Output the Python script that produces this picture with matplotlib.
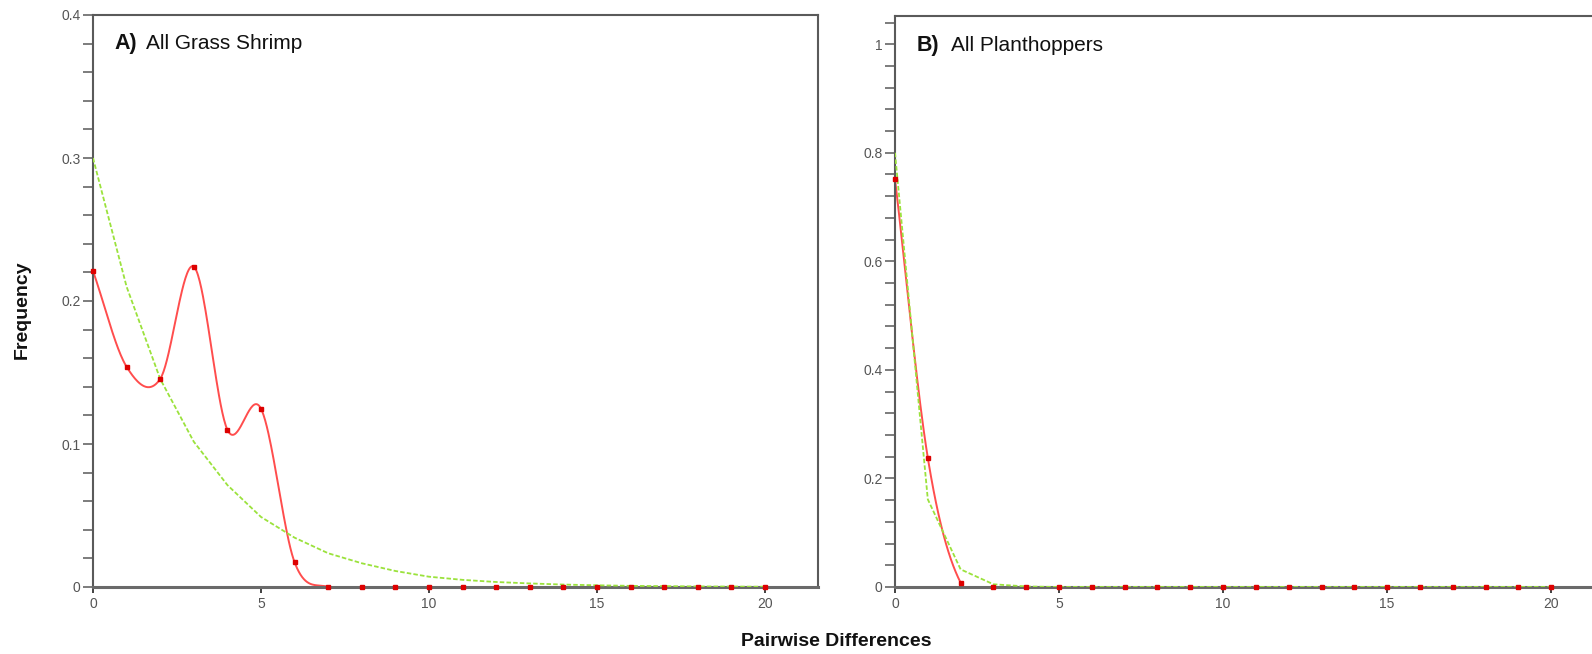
import numpy as np
import matplotlib
matplotlib.use("Agg")
import matplotlib.pyplot as plt

plt.rcParams['font.family'] = ['Liberation Sans', 'DejaVu Sans']

# ---- data ----
diffs = list(range(0, 21))

shrimp_obs = [0.221, 0.154, 0.1455, 0.224, 0.110, 0.1247, 0.0173, 0.0, 0.0, 0.0,
              0.0, 0.0, 0.0, 0.0, 0.0, 0.0, 0.0, 0.0, 0.0, 0.0, 0.0]
shrimp_exp = [0.300, 0.210, 0.1455, 0.1016, 0.0713, 0.049, 0.0345, 0.0236, 0.0166, 0.0112,
              0.0072, 0.0050, 0.0035, 0.0025, 0.0017, 0.0012, 0.0008, 0.0006, 0.0004, 0.0003, 0.0002]

plant_obs = [0.752, 0.238, 0.008, 0.0, 0.0, 0.0, 0.0, 0.0, 0.0, 0.0,
             0.0, 0.0, 0.0, 0.0, 0.0, 0.0, 0.0, 0.0, 0.0, 0.0, 0.0]
plant_exp = [0.800, 0.1615, 0.0325, 0.005, 0.001, 0.0, 0.0, 0.0, 0.0, 0.0,
             0.0, 0.0, 0.0, 0.0, 0.0, 0.0, 0.0, 0.0, 0.0, 0.0, 0.0]

panel_letters = ["A)", "B)"]
panel_titles = ["All Grass Shrimp", "All Planthoppers"]
xticks = [0, 5, 10, 15, 20]
yticks_a = [0, 0.1, 0.2, 0.3, 0.4]
yticklabels_a = ["0", "0.1", "0.2", "0.3", "0.4"]
yticks_b = [0, 0.2, 0.4, 0.6, 0.8, 1.0]
yticklabels_b = ["0", "0.2", "0.4", "0.6", "0.8", "1"]


def smooth_curve(x, y, n=40):
    """Catmull-Rom (cubic Hermite) smoothing through the points."""
    x = np.asarray(x, float)
    y = np.asarray(y, float)
    m = len(x)
    tang = np.zeros(m)
    tang[0] = (y[1] - y[0]) / (x[1] - x[0])
    tang[-1] = (y[-1] - y[-2]) / (x[-1] - x[-2])
    for i in range(1, m - 1):
        tang[i] = (y[i + 1] - y[i - 1]) / (x[i + 1] - x[i - 1])
    xs, ys = [], []
    for i in range(m - 1):
        h = x[i + 1] - x[i]
        t = np.linspace(0, 1, n, endpoint=(i == m - 2))
        h00 = 2 * t ** 3 - 3 * t ** 2 + 1
        h10 = t ** 3 - 2 * t ** 2 + t
        h01 = -2 * t ** 3 + 3 * t ** 2
        h11 = t ** 3 - t ** 2
        xs.append(x[i] + t * h)
        ys.append(h00 * y[i] + h10 * h * tang[i] + h01 * y[i + 1] + h11 * h * tang[i + 1])
    return np.concatenate(xs), np.concatenate(ys)


W, H = 1592, 654
fig = plt.figure(figsize=(W / 100, H / 100), dpi=100)

axA = fig.add_axes([93 / W, (H - 587) / H, 725 / W, 572 / H])
axB = fig.add_axes([895 / W, (H - 587) / H, 708 / W, 571 / H])

red_line = '#ff4d4d'
red_mark = '#dd0000'
green = '#9be23c'
spine_col = '#5a5a5a'
lab_col = '#555555'

panels = [
    (axA, shrimp_obs, shrimp_exp, 0.4, yticks_a, yticklabels_a, 0.02),
    (axB, plant_obs, plant_exp, 1.052, yticks_b, yticklabels_b, 0.04),
]

for k, (ax, obs, exp, ymax, yt, ytl, minor) in enumerate(panels):
    sx, sy = smooth_curve(diffs, obs)
    ax.plot(sx, sy, color=red_line, lw=1.4, zorder=2)
    ax.plot(diffs, exp, color=green, lw=1.3, dashes=(2.5, 1.2), zorder=4.5)
    ax.plot(diffs, obs, linestyle='none', marker='s', markersize=3.0,
            color=red_mark, clip_on=False, zorder=5)
    ax.set_xlim(0, 21.58)
    ax.set_ylim(0, ymax)
    ax.set_xticks(xticks)
    ax.set_xticklabels([str(v) for v in xticks])
    ax.set_yticks(yt)
    ax.set_yticklabels(ytl)
    ax.set_yticks(np.arange(0, ymax + 1e-9, minor), minor=True)
    ax.tick_params(axis='y', which='both', direction='out', length=7, width=1.2,
                   color='#666666', labelsize=10, labelcolor=lab_col, pad=2)
    ax.tick_params(axis='x', which='both', direction='out', length=4, width=1.3,
                   color='#333333', labelsize=10, labelcolor=lab_col, pad=3)
    for side in ['left', 'top', 'right']:
        ax.spines[side].set_color(spine_col)
        ax.spines[side].set_linewidth(1.5)
    ax.spines['bottom'].set_color('#6a6a6a')
    ax.spines['bottom'].set_linewidth(2.2)
    ax.spines['bottom'].set_zorder(4)

axA.text(0.029, 0.951, panel_letters[0], transform=axA.transAxes, fontsize=15.5,
         fontweight='bold', va='center', ha='left', color='#111111')
axA.text(0.0731, 0.951, panel_titles[0], transform=axA.transAxes, fontsize=15,
         va='center', ha='left', color='#111111')
axB.text(0.031, 0.949, panel_letters[1], transform=axB.transAxes, fontsize=15.5,
         fontweight='bold', va='center', ha='left', color='#111111')
axB.text(0.079, 0.949, panel_titles[1], transform=axB.transAxes, fontsize=15,
         va='center', ha='left', color='#111111')

fig.text(22 / W, 1 - 310 / H, "Frequency", rotation=90, fontsize=14,
         fontweight='bold', va='center', ha='center', color='#111111')
fig.text(836 / W, 1 - 642 / H, "Pairwise Differences", fontsize=14,
         fontweight='bold', va='center', ha='center', color='#111111')

fig.savefig("out.png", dpi=100)
